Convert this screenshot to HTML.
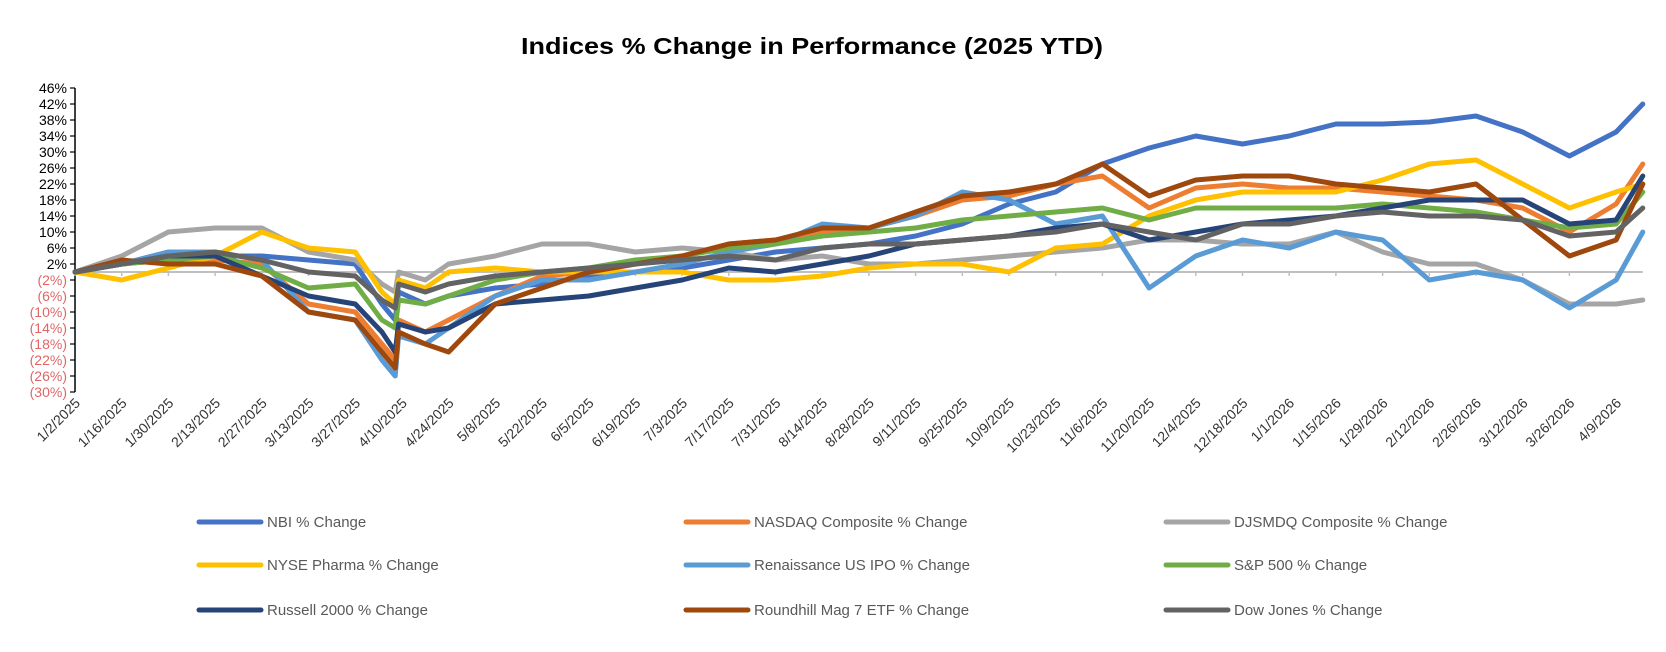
<!DOCTYPE html>
<html><head><meta charset="utf-8"><style>
body{margin:0;background:#fff;}
svg{display:block;font-family:"Liberation Sans",sans-serif;}
</style></head><body>
<svg id="chart" width="1666" height="652" viewBox="0 0 1666 652">
<text x="812" y="54" text-anchor="middle" font-size="23" font-weight="bold" fill="#000" textLength="582" lengthAdjust="spacingAndGlyphs">Indices % Change in Performance (2025 YTD)</text>
<g id="axes"></g><g id="series"></g><g id="legend"></g>
</svg>
<script>
const days=[0,14,28,42,56,70,84,92,96,97,105,112,126,140,154,168,182,196,210,224,238,252,266,280,294,308,322,336,350,364,378,392,406,420,434,448,462,470];
const xTickLabels=["1/2/2025","1/16/2025","1/30/2025","2/13/2025","2/27/2025","3/13/2025","3/27/2025","4/10/2025","4/24/2025","5/8/2025","5/22/2025","6/5/2025","6/19/2025","7/3/2025","7/17/2025","7/31/2025","8/14/2025","8/28/2025","9/11/2025","9/25/2025","10/9/2025","10/23/2025","11/6/2025","11/20/2025","12/4/2025","12/18/2025","1/1/2026","1/15/2026","1/29/2026","2/12/2026","2/26/2026","3/12/2026","3/26/2026","4/9/2026"];
const yTicks=[46,42,38,34,30,26,22,18,14,10,6,2,-2,-6,-10,-14,-18,-22,-26,-30];
const seriesNames=["NBI % Change","NASDAQ Composite % Change","DJSMDQ Composite % Change","NYSE  Pharma % Change","Renaissance US IPO % Change","S&P 500 % Change","Russell 2000 % Change","Roundhill Mag 7 ETF % Change","Dow Jones % Change"];
const seriesColors=["#4472c4","#ed7d31","#a5a5a5","#ffc000","#5b9bd5","#70ad47","#264478","#9e480e","#636363"];
const nbi=[0,2,5,4,4,3,2,-8,-12,-5,-8,-6,-4,-3,-1,0,1,3,5,6,7,9,12,17,20,27,31,34,32,34,37,37,37.5,39,35,29,35,42];
const nasdaq=[0,2,3,3,2,-8,-10,-18,-22,-12,-15,-12,-6,-1,0,2,4,7,8,10,11,14,18,19,22,24,16,21,22,21,21,20,19,18,16,10,17,27];
const djsmdq=[0,4,10,11,11,5,3,-3,-5,0,-2,2,4,7,7,5,6,5,3,4,2,2,3,4,5,6,8,8,7,7,10,5,2,2,-2,-8,-8,-7];
const nysePharma=[0,-2,1,4,10,6,5,-5,-8,-2,-4,0,1,0,0,0,0,-2,-2,-1,1,2,2,0,6,7,14,18,20,20,20,23,27,28,22,16,20,22];
const ipo=[0,2,5,5,3,-10,-12,-22,-26,-16,-18,-14,-6,-2,-2,0,2,5,7,12,11,14,20,18,12,14,-4,4,8,6,10,8,-2,0,-2,-9,-2,10];
const sp500=[0,2,3,4,1,-4,-3,-12,-14,-7,-8,-6,-2,0,1,3,4,6,7,9,10,11,13,14,15,16,13,16,16,16,16,17,16,15,13,11,12,20];
const russell=[0,2,4,4,-1,-6,-8,-15,-20,-13,-15,-14,-8,-7,-6,-4,-2,1,0,2,4,7,8,9,11,12,8,10,12,13,14,16,18,18,18,12,13,24];
const mag7=[0,3,2,2,-1,-10,-12,-20,-24,-15,-18,-20,-8,-4,0,2,4,7,8,11,11,15,19,20,22,27,19,23,24,24,22,21,20,22,13,4,8,22];
const dow=[0,2,4,5,3,0,-1,-7,-9,-3,-5,-3,-1,0,1,2,3,4,3,6,7,7,8,9,10,12,10,8,12,12,14,15,14,14,13,9,10,16];
const allSeries=[nbi,nasdaq,djsmdq,nysePharma,ipo,sp500,russell,mag7,dow];

const NS="http://www.w3.org/2000/svg";
const X0=75, PX_PER_DAY=46.7/14, Y0=272, PX_PER_PCT=4;
function xScale(d){return X0+d*PX_PER_DAY;}
function yScale(v){return Y0-v*PX_PER_PCT;}
function mk(tag,attrs,parent){const e=document.createElementNS(NS,tag);for(const k in attrs)e.setAttribute(k,attrs[k]);parent.appendChild(e);return e;}
const axes=document.getElementById('axes');
const xEnd=xScale(470);
const zl=mk('line',{x1:X0,x2:xEnd,y1:Y0,y2:Y0,stroke:'#bfbfbf','stroke-width':2},axes);


const ya=mk('line',{x1:X0,x2:X0,y1:yScale(46),y2:yScale(-30),stroke:'#000','stroke-width':1.5},axes);


yTicks.forEach(v=>{
  const y=yScale(v);
  mk('line',{x1:X0-5,x2:X0,y1:y,y2:y,stroke:'#000','stroke-width':1.2},axes);
  const t=mk('text',{x:67,y:y+5,'text-anchor':'end','font-size':14,fill:v<0?'#e06666':'#000'},axes);
  t.textContent=v<0?'('+(-v)+'%)':v+'%';
  
  
});
xTickLabels.forEach((lab,i)=>{
  const x=xScale(i*14);
  mk('line',{x1:x,x2:x,y1:Y0,y2:Y0+4,stroke:'#bfbfbf','stroke-width':1.5},axes);
  const t=mk('text',{x:x+6,y:404,'text-anchor':'end','font-size':14,fill:'#333',transform:'rotate(-45 '+(x+6)+' 404)'},axes);
  t.textContent=lab;
  
  
});
const sg=document.getElementById('series');
allSeries.forEach((vals,si)=>{
  const pts=vals.map((v,i)=>xScale(days[i]).toFixed(1)+','+yScale(v).toFixed(1)).join(' ');
  const p=mk('polyline',{points:pts,fill:'none',stroke:seriesColors[si],'stroke-width':5,'stroke-linejoin':'round','stroke-linecap':'round'},sg);
  
  
});
const lg=document.getElementById('legend');
const colX=[199,686,1166], rowY=[522,565,610];
seriesNames.forEach((n,i)=>{
  const x=colX[i%3], y=rowY[Math.floor(i/3)];
  const g=mk('g',{},lg);
  
  
  mk('line',{x1:x,x2:x+62,y1:y,y2:y,stroke:seriesColors[i],'stroke-width':5,'stroke-linecap':'round'},g);
  const t=mk('text',{x:x+68,y:y+5,'font-size':15,fill:'#595959'},g);
  t.textContent=n;
});
</script>
</body></html>
